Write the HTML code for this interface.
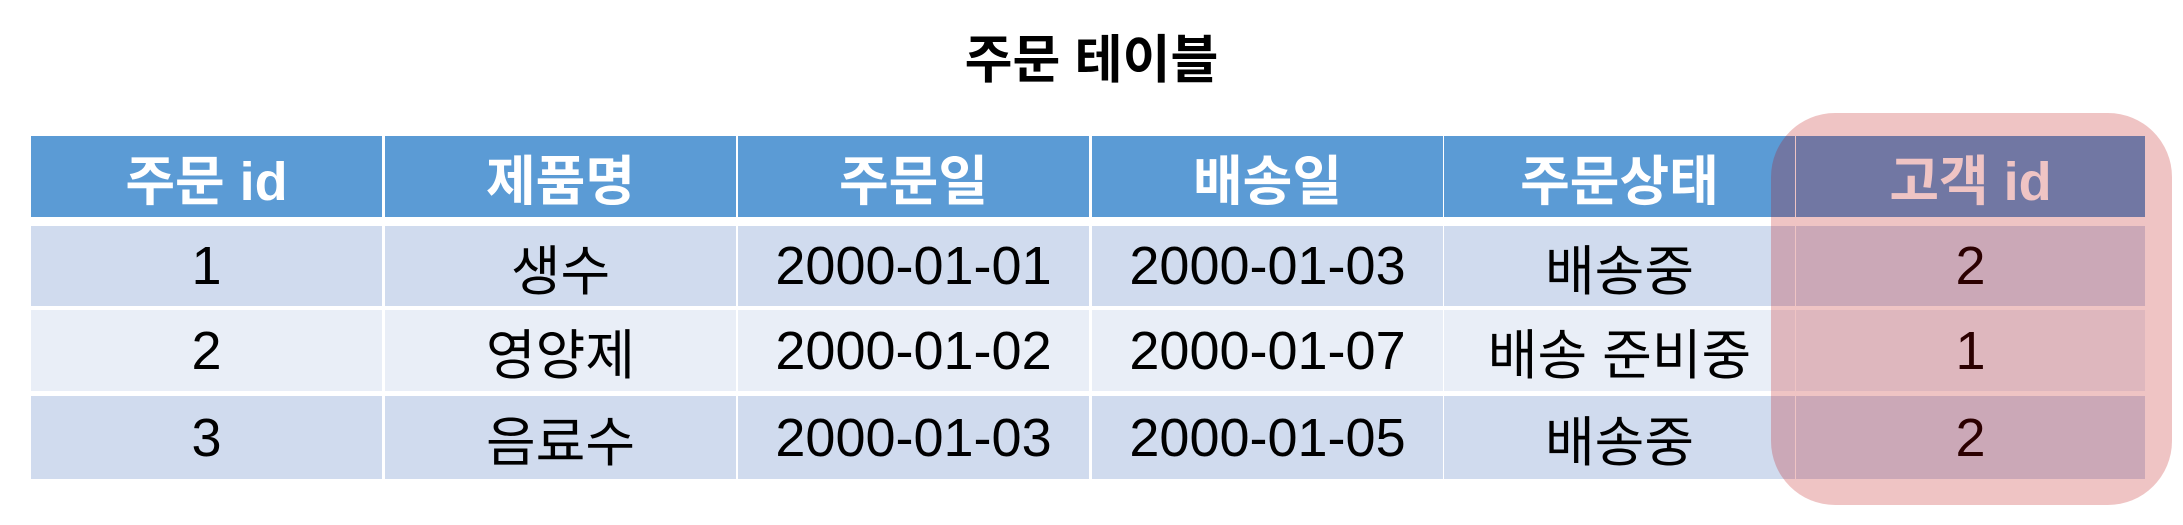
<!DOCTYPE html>
<html><head><meta charset="utf-8"><style>
body{margin:0;width:2183px;height:525px;background:#fff;position:relative;overflow:hidden;font-family:"Liberation Sans","Noto Sans CJK KR",sans-serif}
.c{position:absolute;display:flex;align-items:center;justify-content:center;box-sizing:border-box}
.h{background:#5b9bd5;color:#fff;font-size:54px;font-weight:bold}
.r1{background:#d0dbee;color:#000;font-size:54px}
.r2{background:#e9eef7;color:#000;font-size:54px}
#title{position:absolute;left:0;width:2183px;top:18px;text-align:center;font-size:52px;font-weight:bold;color:#000}
#hl{position:absolute;left:1771px;top:113px;width:401px;height:392px;border-radius:64px;background:rgba(187,0,0,0.23);pointer-events:none}
</style></head><body>
<div id="title">주문 테이블</div>
<div id="tbl"></div>
<div id="hl"></div>
<script>
const headers=["주문 id","제품명","주문일","배송일","주문상태","고객 id"];
const rows=[["1","생수","2000-01-01","2000-01-03","배송중","2"],["2","영양제","2000-01-02","2000-01-07","배송 준비중","1"],["3","음료수","2000-01-03","2000-01-05","배송중","2"]];
const colX=[31,385,738,1092,1444,1796],colW=351;
const rowY=[136,226,310,396],rowH=[81,80,81,83];
const tbl=document.getElementById('tbl');
function cell(txt,r,c,cls){const d=document.createElement('div');d.className='c '+cls;d.style.left=colX[c]+'px';d.style.top=rowY[r]+'px';d.style.width=(c==5?349:colW)+'px';d.style.height=rowH[r]+'px';d.textContent=txt;


tbl.appendChild(d);}
headers.forEach((h,c)=>cell(h,0,c,'h'));
rows.forEach((row,i)=>row.forEach((v,c)=>cell(v,i+1,c,i%2==0?'r1':'r2')));
</script>
</body></html>
